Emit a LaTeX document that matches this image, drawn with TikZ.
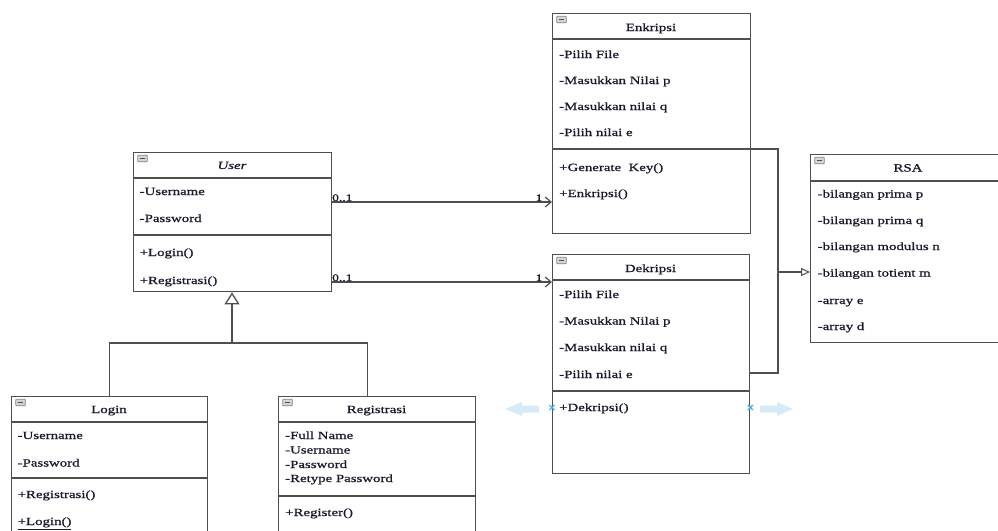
\documentclass[tikz,border=0pt]{standalone}
\usepackage{fontspec}
\setmainfont{Liberation Serif}[FakeStretch=1.35, FakeBold=0.9]
\usetikzlibrary{arrows.meta}

\definecolor{edge}{HTML}{4F4F4F}
\definecolor{ink}{HTML}{1A1A2E}
\definecolor{iconfill}{HTML}{D3D6DB}
\definecolor{iconedge}{HTML}{7E828A}
\definecolor{hintblue}{HTML}{D6EBF8}
\definecolor{markblue}{HTML}{45B4EA}

\tikzset{
  classbox/.style={draw=edge, line width=1.4pt, fill=white, rectangle,
    inner sep=0pt, anchor=north west},
  divider/.style={draw=edge, line width=1.4pt},
  member/.style={anchor=base west, inner sep=0pt, text=ink,
    font=\fontsize{11}{13}\selectfont},
  ctitle/.style={anchor=base, inner sep=0pt, text=ink,
    font=\fontsize{11}{13}\selectfont},
  mult/.style={anchor=base west, inner sep=0pt, text=ink,
    font=\fontsize{10}{12}\selectfont},
  link/.style={draw=edge, line width=1.4pt},
  assoc/.style={link, -{Straight Barb[length=6pt,width=10pt,line width=1.2pt]}},
  general/.style={link, -{Triangle[open,length=12pt,width=15pt,fill=white,line width=1.3pt]}},
  realize/.style={link, -{Triangle[open,length=9pt,width=8pt,fill=white,line width=1pt]}},
  collapse/.style={draw=iconedge, fill=iconfill, rounded corners=0.6pt,
    line width=0.7pt, minimum width=9.5pt, minimum height=6.5pt, inner sep=0pt,
    path picture={\draw[edge, line width=0.9pt]
      ([xshift=-2.8pt]path picture bounding box.center) -- ++(5.6pt,0);}},
  xmark/.style={draw=markblue, line width=1.3pt},
}

\begin{document}
\begin{tikzpicture}[x=1pt, y=-1pt]
\useasboundingbox (0,0) rectangle (998,530);
\clip (0,0) rectangle (998,530);

% ---------- class boxes ----------
\node[classbox, minimum width=198pt, minimum height=139pt] (user) at (133,152) {};
\node[classbox, minimum width=196pt, minimum height=170pt] (login) at (11,396) {};
\node[classbox, minimum width=197pt, minimum height=170pt] (reg) at (278,396) {};
\node[classbox, minimum width=198pt, minimum height=220pt] (enk) at (552,13) {};
\node[classbox, minimum width=197pt, minimum height=219pt] (dek) at (552,254) {};
\node[classbox, minimum width=196pt, minimum height=188pt] (rsa) at (810,154) {};

% ---------- compartment dividers ----------
\draw[divider] ([yshift=-26pt]user.north west) -- ([yshift=-26pt]user.north east);
\draw[divider] ([yshift=-83pt]user.north west) -- ([yshift=-83pt]user.north east);
\draw[divider] ([yshift=-26pt]login.north west) -- ([yshift=-26pt]login.north east);
\draw[divider] ([yshift=-82pt]login.north west) -- ([yshift=-82pt]login.north east);
\draw[divider] ([yshift=-26pt]reg.north west) -- ([yshift=-26pt]reg.north east);
\draw[divider] ([yshift=-100pt]reg.north west) -- ([yshift=-100pt]reg.north east);
\draw[divider] ([yshift=-26pt]enk.north west) -- ([yshift=-26pt]enk.north east);
\draw[divider] ([yshift=-136pt]enk.north west) -- ([yshift=-136pt]enk.north east) coordinate (enk-out);
\draw[divider] ([yshift=-26pt]dek.north west) -- ([yshift=-26pt]dek.north east);
\draw[divider] ([yshift=-137pt]dek.north west) -- ([yshift=-137pt]dek.north east);
\draw[divider] ([yshift=-27pt]rsa.north west) -- ([yshift=-27pt]rsa.north east);

% ---------- collapse icons ----------
\foreach \b in {user,login,reg,enk,dek,rsa}
  \node[collapse, name=\b-icon] at ([xshift=9.5pt,yshift=-6.5pt]\b.north west) {};

% ---------- titles ----------
\node[ctitle, font=\fontsize{11}{13}\selectfont\itshape] (user-t) at (232,169) {User};
\node[ctitle] (login-t) at (109,413) {Login};
\node[ctitle] (reg-t) at (376.5,413) {Registrasi};
\node[ctitle] (enk-t) at (651,31) {Enkripsi};
\node[ctitle] (dek-t) at (650.5,272) {Dekripsi};
\node[ctitle] (rsa-t) at (908,171.5) {RSA};

% ---------- members ----------
\foreach \y/\t [count=\i] in {195/-Username, 222/-Password, 256/+Login(), 284/+Registrasi()}
  \node[member, name=user-m\i] at (139.5,\y) {\t};

\foreach \y/\t [count=\i] in {439/-Username, 466.5/-Password, 498/+Registrasi()}
  \node[member, name=login-m\i] at (17.5,\y) {\t};
\node[member] (login-m4) at (17.5,525) {\underline{+Login()}};

\foreach \y/\t [count=\i] in {439/-Full Name, 453.5/-Username, 468/-Password,
    482/-Retype Password, 516/+Register()}
  \node[member, name=reg-m\i] at (285,\y) {\t};

\foreach \y/\t [count=\i] in {58/-Pilih File, 84/-Masukkan Nilai p, 110/-Masukkan nilai q,
    136/-Pilih nilai e, 171/+Generate\ \ Key(), 197/+Enkripsi()}
  \node[member, name=enk-m\i] at (559,\y) {\t};

\foreach \y/\t [count=\i] in {298/-Pilih File, 324.5/-Masukkan Nilai p, 351/-Masukkan nilai q,
    378/-Pilih nilai e, 411/+Dekripsi()}
  \node[member, name=dek-m\i] at (559,\y) {\t};

\foreach \y/\t [count=\i] in {197.5/-bilangan prima p, 224/-bilangan prima q,
    250/-bilangan modulus n, 276.5/-bilangan totient m, 304/-array e, 330/-array d}
  \node[member, name=rsa-m\i] at (817.5,\y) {\t};

% ---------- associations User -> Enkripsi / Dekripsi ----------
\draw[assoc] ([yshift=-50pt]user.north east) -- ([yshift=-50pt]user.north east -| enk.west);
\draw[assoc] ([yshift=-130pt]user.north east) -- ([yshift=-130pt]user.north east -| dek.west);
\node[mult] (m-enk-a) at (332,201) {0..1};
\node[mult] (m-enk-b) at (535.5,201) {1};
\node[mult] (m-dek-a) at (332,281) {0..1};
\node[mult] (m-dek-b) at (535.5,281) {1};

% ---------- generalization Login / Registrasi -> User ----------
\coordinate (genjoin) at (232,343);
\draw[link] (login.north) |- (genjoin) -| ([xshift=-9.5pt]reg.north);
\draw[general] (genjoin) -- (genjoin |- user.south);

% ---------- Enkripsi / Dekripsi -> RSA ----------
\coordinate (rsajoin) at (778,272);
\draw[link] (enk-out) -| (rsajoin);
\draw[link] ([yshift=-119pt]dek.north east) -| (rsajoin);
\draw[realize] (rsajoin) -- (rsajoin -| rsa.west);

% ---------- resize handles on the selected Dekripsi box ----------
\fill[hintblue] (539,405.5) -- (522,405.5) -- (522,402) -- (505,409) -- (522,416)
  -- (522,412.5) -- (539,412.5) -- cycle;
\fill[hintblue] (760,405.5) -- (777,405.5) -- (777,402) -- (793,409) -- (777,416)
  -- (777,412.5) -- (760,412.5) -- cycle;
\coordinate (hx-l) at (dek.west |- 0,407.5);
\coordinate (hx-r) at (dek.east |- 0,407.5);
\draw[xmark] ([shift={(-2.5pt,-2.5pt)}]hx-l) -- ([shift={(2.5pt,2.5pt)}]hx-l)
             ([shift={(-2.5pt,2.5pt)}]hx-l) -- ([shift={(2.5pt,-2.5pt)}]hx-l);
\draw[xmark] ([shift={(-2.5pt,-2.5pt)}]hx-r) -- ([shift={(2.5pt,2.5pt)}]hx-r)
             ([shift={(-2.5pt,2.5pt)}]hx-r) -- ([shift={(2.5pt,-2.5pt)}]hx-r);
\end{tikzpicture}
\end{document}
